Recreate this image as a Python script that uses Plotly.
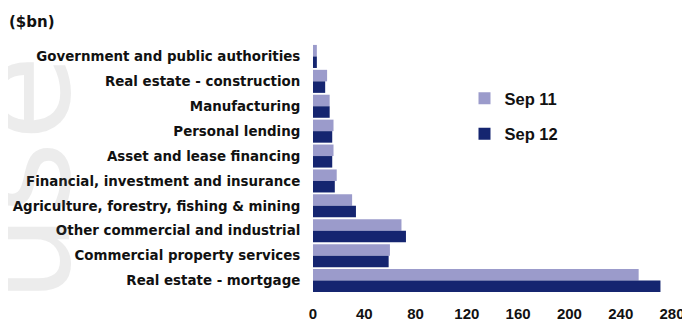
import plotly.graph_objects as go

categories = [
    "Government and public authorities",
    "Real estate - construction",
    "Manufacturing",
    "Personal lending",
    "Asset and lease financing",
    "Financial, investment and insurance",
    "Agriculture, forestry, fishing & mining",
    "Other commercial and industrial",
    "Commercial property services",
    "Real estate - mortgage",
]
sep11 = [3, 11, 13, 16, 16, 18.5, 30.5, 69, 60, 254]
sep12 = [3, 9.5, 13, 15, 15, 17, 33.5, 72.5, 59, 271]
x_ticks = [0, 40, 80, 120, 160, 200, 240, 280]

fig = go.Figure()
fig.add_trace(go.Bar(y=categories, x=sep11, orientation="h", name="Sep 11",
                     marker=dict(color="#9b9bcb", line=dict(width=0)), legendgroup="a"))
fig.add_trace(go.Bar(y=categories, x=sep12, orientation="h", name="Sep 12",
                     marker=dict(color="#152570", line=dict(width=0)), legendgroup="b"))

fig.update_layout(
    width=690, height=329,
    margin=dict(l=305, r=26, t=36, b=44),
    paper_bgcolor="white", plot_bgcolor="white",
    barmode="group", bargap=0.075, bargroupgap=0,
    showlegend=True,
    legend=dict(x=0.422, y=0.851, xanchor="left", yanchor="top",
                font=dict(family="Liberation Sans", size=16.5, color="#111111", weight="bold"),
                traceorder="grouped", tracegroupgap=11, bgcolor="rgba(0,0,0,0)"),
    xaxis=dict(range=[0, 280], tickvals=x_ticks, showgrid=False, zeroline=False,
               showline=False, ticks="outside", ticklen=7, tickcolor="rgba(0,0,0,0)",
               automargin=False,
               tickfont=dict(family="Liberation Sans", size=15, color="#111111", weight="bold")),
    yaxis=dict(autorange="reversed", showgrid=False, zeroline=False, showline=False,
               ticks="outside", ticklen=9, tickcolor="rgba(0,0,0,0)", automargin=False,
               tickfont=dict(family="DejaVu Sans", size=13.4, color="#111111", weight="bold")),
    annotations=[
        dict(text="use", xref="paper", yref="paper", x=-0.814, y=0.458,
             xanchor="center", yanchor="middle", showarrow=False, textangle=-90,
             font=dict(family="DejaVu Sans", size=140, color="rgba(110,110,110,0.13)")),
        dict(text="($bn)", xref="paper", yref="paper", x=-0.853, y=1.0, yshift=22,
             xanchor="left", yanchor="middle", showarrow=False,
             font=dict(family="DejaVu Sans", size=15, color="#111111", weight="bold")),
    ],
)

fig.write_html("out.html")
